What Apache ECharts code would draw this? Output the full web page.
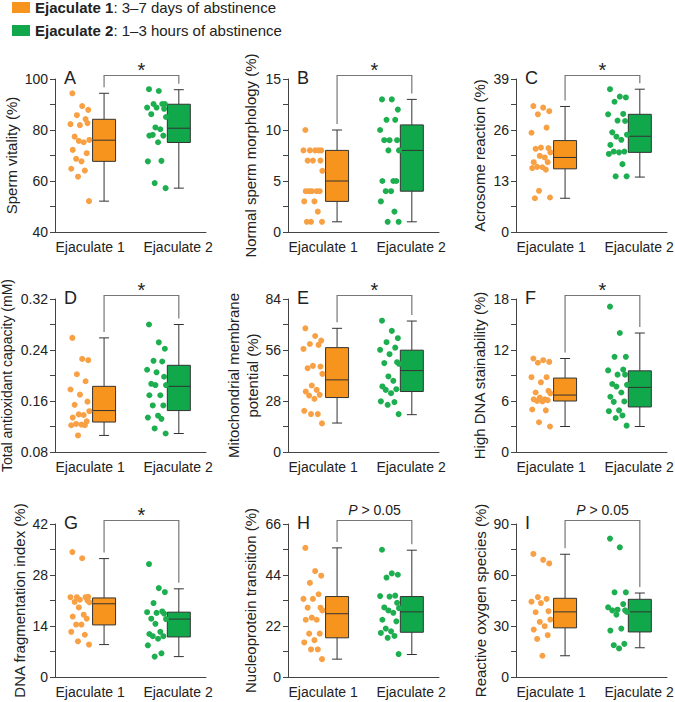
<!DOCTYPE html>
<html>
<head>
<meta charset="utf-8">
<script src="https://cdn.jsdelivr.net/npm/echarts@6/dist/echarts.min.js"></script>
<style>
  html, body { margin: 0; padding: 0; background: #fff; }
  #chart { width: 675px; height: 702px; }
</style>
</head>
<body>
<div id="chart"></div>
<script>
// ---- data ----
var groups = ['Ejaculate 1', 'Ejaculate 2'];
var groupNotes = ['3–7 days of abstinence', '1–3 hours of abstinence'];

// A  sperm vitality
var vitality1 = [94.4, 89.4, 87.9, 85.8, 84.3, 82.3, 81.9, 82.7, 77.4, 76.1, 75.7, 75.2, 72.2, 70.9, 68.7, 67.7, 64.8, 64.1, 61.7, 52.1];
var vitality2 = [96.0, 95.3, 90.2, 90.2, 90.2, 88.8, 88.8, 88.3, 86.2, 85.1, 81.0, 80.3, 77.8, 77.8, 78.1, 75.2, 67.7, 67.9, 59.2, 57.2];
var vitalityBox = [[52.1, 67.7, 76.0, 84.2, 94.4], [57.2, 75.1, 80.7, 90.1, 95.8]];
// B  normal morphology
var morphology1 = [10, 8, 8, 8, 8, 8, 7, 7, 7, 6, 4, 4, 4, 4, 4, 3, 3, 2, 1, 1, 1];
var morphology2 = [13, 13, 12, 11, 11, 10, 9, 9, 9, 8, 8, 5, 5, 5, 4, 4, 3, 2, 1, 1];
var morphologyBox = [[1, 3, 5, 8, 10], [1, 4, 8, 10.5, 13]];
// C  acrosome reaction
var acrosome1 = [32.1, 31.7, 30.8, 30.0, 26.6, 25.3, 21.5, 21.4, 21.2, 20.3, 19.4, 19.0, 17.8, 17.8, 16.6, 16.5, 16.3, 15.9, 10.5, 8.8, 8.6];
var acrosome2 = [36.4, 34.5, 34.3, 33.2, 30.1, 30.0, 28.4, 28.3, 25.4, 24.8, 24.3, 23.5, 22.2, 20.5, 20.5, 20.3, 19.9, 17.3, 14.2, 14.2];
var acrosomeBox = [[8.6, 16.1, 19.0, 23.3, 32.0], [14.0, 20.3, 24.4, 30.0, 36.4]];
// D  total antioxidant capacity
var antioxidant1 = [0.259, 0.226, 0.224, 0.202, 0.191, 0.178, 0.170, 0.159, 0.154, 0.144, 0.139, 0.138, 0.134, 0.128, 0.124, 0.123, 0.122, 0.122, 0.106];
var antioxidant2 = [0.280, 0.252, 0.242, 0.223, 0.222, 0.209, 0.205, 0.198, 0.187, 0.185, 0.185, 0.169, 0.169, 0.153, 0.153, 0.137, 0.134, 0.132, 0.117, 0.109];
var antioxidantBox = [[0.106, 0.127, 0.145, 0.183, 0.259], [0.109, 0.145, 0.183, 0.216, 0.280]];
// E  mitochondrial membrane potential
var mitochondria1 = [67.9, 63.7, 61.2, 59.3, 58.8, 56.6, 47.3, 46.9, 46.0, 42.9, 36.5, 34.1, 33.2, 31.4, 31.0, 29.2, 22.6, 20.8, 20.8, 15.7];
var mitochondria2 = [72.1, 66.5, 62.5, 60.3, 57.3, 56.1, 53.7, 49.3, 48.8, 48.4, 41.5, 39.1, 36.0, 34.5, 34.1, 32.3, 27.8, 27.4, 25.9, 20.8];
var mitochondriaBox = [[15.9, 29.9, 39.6, 57.3, 67.9], [20.5, 33.2, 44.7, 55.9, 71.9]];
// F  high DNA stainability
var stainability1 = [11.0, 10.8, 10.6, 10.5, 8.8, 8.8, 8.2, 7.2, 7.0, 6.9, 6.4, 6.2, 6.2, 6.1, 6.0, 5.95, 5.0, 4.9, 3.5, 3.0];
var stainability2 = [17.1, 14.0, 11.2, 11.2, 9.7, 9.6, 9.1, 9.1, 8.0, 7.9, 7.7, 7.0, 6.5, 5.95, 5.9, 4.9, 4.8, 4.3, 4.0, 3.1];
var stainabilityBox = [[3.0, 6.0, 6.7, 8.7, 11.0], [3.0, 5.3, 7.6, 9.55, 14.0]];
// G  DNA fragmentation index
var fragmentation1 = [34.3, 32.6, 22.0, 21.9, 21.9, 21.9, 21.2, 21.0, 20.6, 20.5, 19.1, 17.1, 16.6, 16.0, 14.4, 14.4, 12.4, 11.6, 9.8, 8.9];
var fragmentation2 = [31.0, 24.4, 23.3, 20.3, 18.0, 17.8, 17.6, 17.4, 16.0, 15.9, 14.6, 12.4, 11.8, 11.2, 11.2, 10.5, 8.7, 6.5, 5.6];
var fragmentationBox = [[8.9, 14.3, 20.1, 21.7, 32.5], [5.6, 11.0, 15.9, 17.8, 24.2]];
// H  nucleoprotein transition
var nucleoprotein1 = [55.7, 45.7, 43.7, 40.6, 35.7, 33.7, 33.7, 29.9, 29.9, 28.7, 25.6, 24.7, 24.7, 18.7, 18.7, 15.9, 14.9, 11.9, 11.9, 7.7];
var nucleoprotein2 = [54.9, 44.7, 44.1, 42.9, 35.1, 34.9, 34.7, 32.0, 30.0, 29.7, 28.7, 27.7, 24.7, 24.0, 20.9, 19.7, 19.0, 17.7, 16.9, 9.9];
var nucleoproteinBox = [[7.7, 16.9, 27.3, 34.7, 55.7], [9.7, 19.3, 28.1, 34.7, 54.7]];
// I  reactive oxygen species
var oxygen1 = [72.4, 68.9, 66.8, 47.0, 45.9, 44.3, 43.5, 38.7, 38.1, 33.8, 32.4, 29.9, 27.9, 24.6, 22.4, 12.5];
var oxygen2 = [81.4, 76.3, 49.8, 49.8, 42.9, 41.0, 39.6, 39.2, 39.2, 38.3, 36.7, 28.5, 27.3, 19.5, 18.7, 16.8];
var oxygenBox = [[12.5, 28.9, 38.3, 46.3, 72.2], [17.2, 26.5, 38.3, 45.7, 49.4]];

// ---- layout / style ----
var FONT = "'Liberation Sans', Arial, sans-serif";
var BOX_COLOR = ['#F7941D', '#10A84B'];
var DOT_COLOR = ['#F8A044', '#1DAE50'];
var INK = '#222';
var AXIS = '#444';
var GRID_LEFT = [55, 288, 516];
var GRID_TOP = [79, 299, 524];
var GRID_W = 151, GRID_H = 153;
var BOX_POS = [1.30, 3.28];     // x axis runs 0..4
var DOT_POS = [0.66, 2.69];
var LABEL_POS = [0.93, 3.26];
var JITTER = [-0.2, 0.06, 0.22, -0.08, 0.15, -0.25, 0.0, 0.2, -0.14, 0.25, -0.03, 0.1, -0.19, 0.18, -0.1, 0.04, -0.23, 0.13, -0.05, 0.24, -0.16];

var panels = [
  {letter: 'A', name: 'Sperm vitality (%)', min: 40, max: 100, step: 20, d: [vitality1, vitality2], box: vitalityBox, sig: '*', gap: 32},
  {letter: 'B', name: 'Normal sperm morphology (%)', min: 0, max: 15, step: 5, d: [morphology1, morphology2], box: morphologyBox, sig: '*', gap: 28},
  {letter: 'C', name: 'Acrosome reaction (%)', min: 0, max: 39, step: 13, d: [acrosome1, acrosome2], box: acrosomeBox, sig: '*', gap: 27},
  {letter: 'D', name: 'Total antioxidant capacity (mM)', min: 0.08, max: 0.32, step: 0.08, d: [antioxidant1, antioxidant2], box: antioxidantBox, sig: '*', gap: 38, dec: 2, nameSize: 14},
  {letter: 'E', name: 'Mitochondrial membrane\npotential (%)', min: 0, max: 84, step: 28, d: [mitochondria1, mitochondria2], box: mitochondriaBox, sig: '*', gap: 23},
  {letter: 'F', name: 'High DNA stainability (%)', min: 0, max: 18, step: 6, d: [stainability1, stainability2], box: stainabilityBox, sig: '*', gap: 27},
  {letter: 'G', name: 'DNA fragmentation index (%)', min: 0, max: 42, step: 14, d: [fragmentation1, fragmentation2], box: fragmentationBox, sig: '*', gap: 26},
  {letter: 'H', name: 'Nucleoprotein transition (%)', min: 0, max: 66, step: 22, d: [nucleoprotein1, nucleoprotein2], box: nucleoproteinBox, sig: 'P', gap: 28},
  {letter: 'I', name: 'Reactive oxygen species (%)', min: 0, max: 90, step: 30, d: [oxygen1, oxygen2], box: oxygenBox, sig: 'P', gap: 25}
];

// box + whiskers drawn through the axis scales
function renderBox(params, api) {
  var x = api.value(0);
  var lo = api.coord([x, api.value(1)]);
  var q1 = api.coord([x, api.value(2)]);
  var md = api.coord([x, api.value(3)]);
  var q3 = api.coord([x, api.value(4)]);
  var hi = api.coord([x, api.value(5)]);
  var g = api.value(6);
  var cx = md[0], hw = 11.5, cw = 5;
  var ln = {stroke: '#333', lineWidth: 1};
  return {type: 'group', children: [
    {type: 'line', shape: {x1: cx, y1: lo[1], x2: cx, y2: q1[1]}, style: ln},
    {type: 'line', shape: {x1: cx, y1: q3[1], x2: cx, y2: hi[1]}, style: ln},
    {type: 'line', shape: {x1: cx - cw, y1: lo[1], x2: cx + cw, y2: lo[1]}, style: ln},
    {type: 'line', shape: {x1: cx - cw, y1: hi[1], x2: cx + cw, y2: hi[1]}, style: ln},
    {type: 'rect', shape: {x: cx - hw, y: q3[1], width: hw * 2, height: q1[1] - q3[1]},
      style: {fill: BOX_COLOR[g], stroke: '#333', lineWidth: 1}},
    {type: 'line', shape: {x1: cx - hw, y1: md[1], x2: cx + hw, y2: md[1]}, style: ln}
  ]};
}

// significance bracket above the two boxes
function makeBracket(sig) {
  return function (params, api) {
    var cs = params.coordSys;
    var yTop = cs.y - 3.5;
    var a = api.coord([api.value(0), api.value(1)]);
    var b = api.coord([api.value(2), api.value(3)]);
    var txt = sig === '*'
      ? {type: 'text', x: (a[0] + b[0]) / 2, y: yTop - 6,
         style: {text: '*', fill: INK, font: '20px ' + FONT, align: 'center', verticalAlign: 'middle'}}
      : {type: 'text', x: (a[0] + b[0]) / 2, y: yTop - 11,
         style: {text: '{i|P} > 0.05', fill: INK, fontSize: 14, fontFamily: FONT, align: 'center', verticalAlign: 'middle',
                 rich: {i: {fontStyle: 'italic', fontSize: 14, fontFamily: FONT, fill: INK}}}};
    return {type: 'group', children: [
      {type: 'polyline', shape: {points: [[a[0], a[1] - 6], [a[0], yTop], [b[0], yTop], [b[0], b[1] - 6]]},
        style: {stroke: '#777', fill: null, lineWidth: 1.2}},
      txt
    ]};
  };
}

var grid = [], xAxis = [], yAxis = [], series = [], title = [];
panels.forEach(function (p, i) {
  var left = GRID_LEFT[i % 3], top = GRID_TOP[Math.floor(i / 3)];
  grid.push({left: left, top: top, width: GRID_W, height: GRID_H, containLabel: false, outerBoundsMode: 'none'});
  title.push({text: p.letter, left: left + 9, top: top - 10, padding: 0,
    textStyle: {fontSize: 18, fontWeight: 'normal', color: INK, fontFamily: FONT}});
  xAxis.push({
    gridIndex: i, type: 'value', min: 0, max: 4,
    axisLine: {show: true, onZero: false, lineStyle: {color: AXIS}},
    axisTick: {show: false}, splitLine: {show: false},
    axisLabel: {customValues: LABEL_POS, margin: 8, fontSize: 14, color: INK, fontFamily: FONT,
      formatter: function (v) { return v < 2 ? groups[0] : groups[1]; }}
  });
  yAxis.push({
    gridIndex: i, type: 'value', min: p.min, max: p.max, interval: p.step,
    name: p.name, nameLocation: 'middle', nameGap: p.gap,
    nameTextStyle: {fontSize: p.nameSize || 15, color: INK, fontFamily: FONT, lineHeight: 19},
    axisLine: {show: true, onZero: false, lineStyle: {color: AXIS}},
    axisTick: {show: true, length: 5, lineStyle: {color: AXIS}},
    minorTick: {show: true, splitNumber: 2, length: 5, lineStyle: {color: AXIS}},
    splitLine: {show: false}, minorSplitLine: {show: false},
    axisLabel: {margin: 7, fontSize: 14, color: INK, fontFamily: FONT,
      formatter: function (v) { return p.dec ? v.toFixed(p.dec) : String(v); }}
  });
  [0, 1].forEach(function (g) {
    series.push({
      name: groups[g], type: 'scatter', xAxisIndex: i, yAxisIndex: i, silent: true,
      symbolSize: 6, itemStyle: {color: DOT_COLOR[g], opacity: 1},
      data: p.d[g].map(function (v, k) { return [DOT_POS[g] + JITTER[k % JITTER.length], v]; })
    });
  });
  series.push({
    type: 'custom', xAxisIndex: i, yAxisIndex: i, silent: true, clip: false,
    renderItem: renderBox,
    encode: {x: 0, y: [1, 2, 3, 4, 5]},
    data: [0, 1].map(function (g) { return [BOX_POS[g]].concat(p.box[g]).concat([g]); })
  });
  series.push({
    type: 'custom', xAxisIndex: i, yAxisIndex: i, silent: true, clip: false,
    renderItem: makeBracket(p.sig),
    encode: {x: [0, 2], y: [1, 3]},
    data: [[BOX_POS[0], p.box[0][4], BOX_POS[1], p.box[1][4]]]
  });
});

var myChart = echarts.init(document.getElementById('chart'), null, {renderer: 'svg'});
myChart.setOption({
  animation: false,
  textStyle: {fontFamily: FONT},
  title: title,
  legend: {
    orient: 'vertical', left: 12, top: 0, padding: 0, itemGap: 8,
    itemWidth: 18, itemHeight: 11, icon: 'rect', selectedMode: false,
    data: [
      {name: groups[0], itemStyle: {color: BOX_COLOR[0]}},
      {name: groups[1], itemStyle: {color: BOX_COLOR[1]}}
    ],
    formatter: function (name) { return '{b|' + name + '}: ' + groupNotes[groups.indexOf(name)]; },
    textStyle: {fontSize: 15, color: INK, fontFamily: FONT,
      rich: {b: {fontSize: 15, fontWeight: 'bold', color: INK, fontFamily: FONT}}}
  },
  grid: grid,
  xAxis: xAxis,
  yAxis: yAxis,
  series: series
});
</script>
</body>
</html>
